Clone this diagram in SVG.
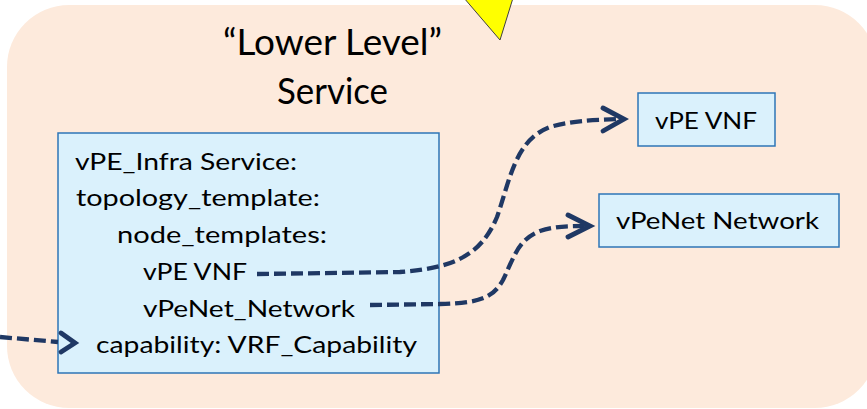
<svg xmlns="http://www.w3.org/2000/svg" width="867" height="409" viewBox="0 0 867 409">
  <defs>
    <style>
      .t { font-family: Lato, "Open Sans", "Liberation Sans", sans-serif; fill: #000; }
      .title { font-size: 36px; }
      .body { font-size: 23.5px; }
      .box { fill: #DAF1FC; stroke: #2E75B6; stroke-width: 1.5; }
      .conn { fill: none; stroke: #1F3864; stroke-width: 4.3; stroke-dasharray: 12 5; }
      .head { fill: none; stroke: #1F3864; stroke-width: 4.8; stroke-linecap: round; stroke-linejoin: miter; }
    </style>
  </defs>

  <g id="background">
    <rect x="7" y="5" width="870" height="403" rx="62" ry="62" fill="#FDEADC"/>
  </g>

  <g id="pointer">
    <polygon points="464,-2 513,-2 500,40" fill="#FFFF00" stroke="#404040" stroke-width="1"/>
  </g>

  <g id="title">
    <text class="t title" x="223" y="55" textLength="219" lengthAdjust="spacingAndGlyphs">“Lower Level”</text>
    <text class="t title" x="277" y="104" textLength="111" lengthAdjust="spacingAndGlyphs">Service</text>
  </g>

  <g id="infra-service">
    <rect class="box" x="58" y="133" width="381" height="240"/>
    <text class="t body" x="75" y="170" textLength="222" lengthAdjust="spacingAndGlyphs">vPE_Infra Service:</text>
    <text class="t body" x="76" y="206" textLength="244" lengthAdjust="spacingAndGlyphs">topology_template:</text>
    <text class="t body" x="117" y="243" textLength="210" lengthAdjust="spacingAndGlyphs">node_templates:</text>
    <text class="t body" x="143" y="280" textLength="104" lengthAdjust="spacingAndGlyphs">vPE VNF</text>
    <text class="t body" x="143" y="317" textLength="212" lengthAdjust="spacingAndGlyphs">vPeNet_Network</text>
    <text class="t body" x="96" y="353" textLength="321" lengthAdjust="spacingAndGlyphs">capability: VRF_Capability</text>
  </g>

  <g id="vpe-vnf">
    <rect class="box" x="638" y="93" width="137" height="53"/>
    <text class="t body" x="655" y="129" textLength="102" lengthAdjust="spacingAndGlyphs">vPE VNF</text>
  </g>

  <g id="vpenet-network">
    <rect class="box" x="599" y="194" width="240" height="53"/>
    <text class="t body" x="616" y="229" textLength="203" lengthAdjust="spacingAndGlyphs">vPeNet Network</text>
  </g>

  <g id="connectors">
    <path class="conn" d="M257,274 L400,272 C450,268 480,258 497,217 C510,180 515,140 550,127 C570,121 590,120 620,119"/>
    <polyline class="head" points="603,108 624,119 603,131"/>
    <path class="conn" d="M370,305 L440,304 C480,303 493,298 503,280 C515,255 518,240 540,231 C555,226 570,226 588,226"/>
    <polyline class="head" points="568,215 590,226 568,237"/>
    <path class="conn" d="M0,337 L58,342"/>
    <polyline class="head" points="61,333 75,343 61,352"/>
  </g>
</svg>
